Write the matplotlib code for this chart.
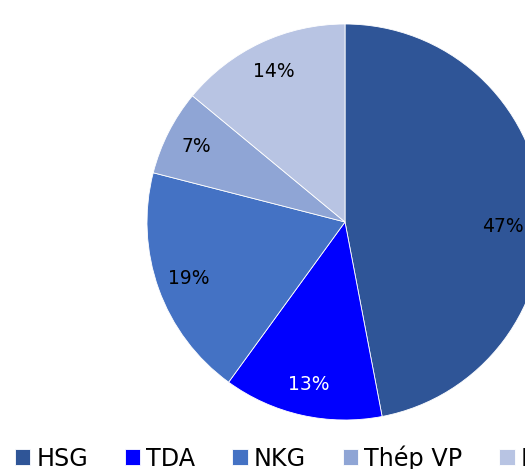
import matplotlib
matplotlib.use("Agg")
import matplotlib.pyplot as plt

labels = ["HSG", "TDA", "NKG", "Thép VP", "Khác"]
values = [47, 13, 19, 7, 14]
colors = ["#2F5597", "#0000FF", "#4472C4", "#8FA5D5", "#B8C4E3"]

W, H = 525, 469
fig = plt.figure(figsize=(W / 100, H / 100), dpi=100)
ax = fig.add_axes([0, 0, 1, 1])

R = 198.0
cx, cy = 345.0, 222.0
wedges, texts, autotexts = ax.pie(
    values, colors=colors, startangle=90, counterclock=False,
    autopct=lambda p: f"{p:.0f}%", pctdistance=0.84,
    wedgeprops=dict(edgecolor="white", linewidth=0.6),
    textprops=dict(fontsize=13.5, color="black", family="DejaVu Sans"),
)
autotexts[1].set_color("white")
# Excel moved the clipped 47% label slightly
x0, y0 = autotexts[0].get_position()
autotexts[0].set_position((x0 - 0.04, y0 - 0.1))

ax.set_aspect("auto")
ax.set_xlim(-cx / R, (W - cx) / R)
ax.set_ylim(-(H - cy) / R, cy / R)
ax.axis("off")

fig.legend(wedges, labels, loc="upper left",
           bbox_to_anchor=(15 / W, (H - 445) / H), ncol=5, frameon=False,
           prop=dict(family="DejaVu Sans", size=17.2),
           handlelength=0.64, handleheight=0.64, handletextpad=0.25,
           columnspacing=1.55, borderpad=0, borderaxespad=0)

fig.savefig("out.png", dpi=100)
